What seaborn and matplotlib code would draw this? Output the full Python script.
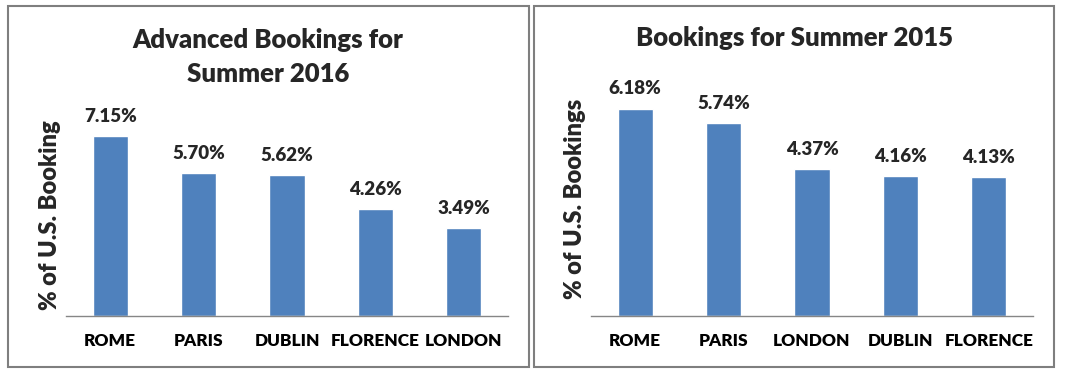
import matplotlib
matplotlib.use("Agg")
import matplotlib.pyplot as plt
import matplotlib.patches as patches
import seaborn as sns

# Data
cities_2016 = ["ROME", "PARIS", "DUBLIN", "FLORENCE", "LONDON"]
share_2016 = [7.15, 5.70, 5.62, 4.26, 3.49]
cities_2015 = ["ROME", "PARIS", "LONDON", "DUBLIN", "FLORENCE"]
share_2015 = [6.18, 5.74, 4.37, 4.16, 4.13]

sns.set_theme(style="white")
plt.rcParams["font.family"] = ["Lato", "DejaVu Sans"]

W, H = 1066, 374
fig = plt.figure(figsize=(W / 100, H / 100), dpi=100)
fig.patch.set_facecolor("white")

bar_color = "#4F81BD"
axis_gray = "#868686"
wt = "heavy"


def px_rect(x0, y0, x1, y1):
    # pixel box (top-left origin) -> figure fraction [left, bottom, width, height]
    return [x0 / W, 1 - y1 / H, (x1 - x0) / W, (y1 - y0) / H]


def draw_panel(ax, cities, values, ymax, ylabel):
    sns.barplot(x=cities, y=values, color=bar_color, width=0.4,
                saturation=1, ax=ax)
    ax.set_xlim(-0.5, len(cities) - 0.5)
    ax.set_ylim(0, ymax)
    ax.set_yticks([])
    for s in ["left", "right", "top"]:
        ax.spines[s].set_visible(False)
    ax.spines["bottom"].set_color(axis_gray)
    ax.spines["bottom"].set_linewidth(1)
    ax.set_xticks(range(len(cities)))
    ax.set_xticklabels(cities, fontsize=12.4, fontweight=wt, color="black")
    ax.tick_params(axis="x", which="major", length=0, pad=12)
    ax.set_xticks([i - 0.5 for i in range(len(cities) + 1)], minor=True)
    ax.tick_params(axis="x", which="minor", length=7, width=1,
                   color=axis_gray, direction="out")
    ax.set_xlabel("")
    for i, v in enumerate(values):
        ax.annotate(f"{v:.2f}%", xy=(i, v), xytext=(0, 8),
                    textcoords="offset points", ha="center", va="bottom",
                    fontsize=13.5, fontweight=wt)
    ax.set_ylabel(ylabel, fontsize=17, fontweight=wt, va="center")
    ax.yaxis.set_label_coords(-0.036, 0.5)


# panel borders
for box in [(8, 6, 529, 367), (534, 6, 1054, 367)]:
    r = patches.Rectangle((box[0] / W, 1 - box[3] / H),
                          (box[2] - box[0]) / W, (box[3] - box[1]) / H,
                          transform=fig.transFigure, fill=False,
                          edgecolor="#7f7f7f", linewidth=1.5)
    fig.add_artist(r)

ax1 = fig.add_axes(px_rect(66, 115, 508, 316))
ax1.patch.set_alpha(0)
draw_panel(ax1, cities_2016, share_2016, 8, "% of U.S. Booking")

ax2 = fig.add_axes(px_rect(591, 81, 1033, 316))
ax2.patch.set_alpha(0)
draw_panel(ax2, cities_2015, share_2015, 7, "% of U.S. Bookings")

fig.text(268 / W, 1 - 40 / H, "Advanced Bookings for", ha="center",
         va="center", fontsize=18.5, fontweight=wt)
fig.text(268 / W, 1 - 74 / H, "Summer 2016", ha="center",
         va="center", fontsize=18.5, fontweight=wt)
fig.text(794 / W, 1 - 38 / H, "Bookings for Summer 2015", ha="center",
         va="center", fontsize=18.5, fontweight=wt)

fig.savefig("out.png", dpi=100, facecolor="white")
